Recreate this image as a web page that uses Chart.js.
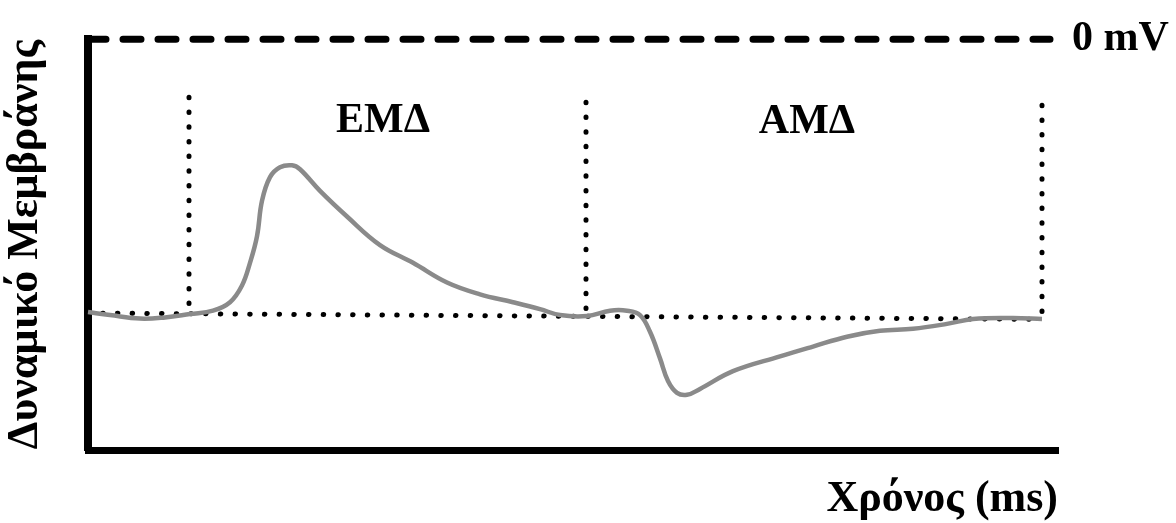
<!DOCTYPE html>
<html>
<head>
<meta charset="utf-8">
<script src="https://cdn.jsdelivr.net/npm/chart.js@4.4.1/dist/chart.umd.min.js"></script>
<style>
   html, body { margin: 0; padding: 0; background: #fff; }
   #wrap { width: 1176px; height: 523px; }
</style>
</head>
<body>
<div id="wrap"><canvas id="potentialChart"></canvas></div>
<script>
// time in arbitrary ms units, potential in mV
const traceTime = [0, 2.2, 5.2, 7.7, 10.2, 12.5, 14.2, 15.4, 16.2, 16.9, 17.4, 18.2, 19.2, 20.4, 21.2, 23.2, 25.9, 29.2, 32.5, 35.9, 39.2, 42.5, 45.2, 47.2, 49.9, 52.2, 53.9, 55.2, 56.2, 57.2, 58, 58.9, 59.9, 61.2, 64.5, 69.2, 72.5, 75.9, 79.2, 82.5, 85.9, 88.5, 92.5, 95.4];
const tracePotential = [-69.25, -70, -70.9, -70.6, -69.75, -68.9, -66.75, -62.5, -56.75, -50, -41, -35, -32.5, -32, -33, -38.5, -45, -52.25, -56.75, -61.75, -64.75, -66.75, -68.5, -70, -70.25, -68.9, -68.9, -70, -74.25, -81, -86.75, -89.75, -90.25, -88.75, -84.25, -80.5, -78, -75.5, -74, -73.5, -72.25, -71, -70.75, -71];

const zeroTime = [0, 96.2];
const zeroPotential = [0, 0];

const restTime = [0, 95.4];
const restPotential = [-69.5, -71.1];

const markerTime = [10.1, 49.8, 95.4];
const markerTop = [-14.75, -16, -16.75];
const markerBottom = [-69.75, -70.3, -71.1];

const phaseLabels = ['ΕΜΔ', 'ΑΜΔ'];
const phaseTime = [29.5, 71.9];
const phasePotential = [-23.5, -23.75];

const yTitle = 'Δυναμικό Μεμβράνης';
const xTitle = 'Χρόνος (ms)';
const zeroLabel = '0 mV';

const serif = '"Liberation Serif", "DejaVu Serif", serif';

function toPoints(xs, ys) {
   return xs.map((x, i) => ({ x: x, y: ys[i] }));
}

const datasets = [];

datasets.push({
   data: toPoints(traceTime, tracePotential),
   borderColor: '#8a8a8a',
   borderWidth: 4.5,
   pointRadius: 0,
   tension: 0.4,
   clip: false,
});

datasets.push({
   data: toPoints(zeroTime, zeroPotential),
   borderColor: '#000',
   borderWidth: 7,
   borderDash: [18, 17],
   borderCapStyle: 'round',
   pointRadius: 0,
   clip: false,
});

datasets.push({
   data: toPoints(restTime, restPotential),
   borderColor: '#000',
   borderWidth: 5,
   borderDash: [0.5, 14.2],
   borderCapStyle: 'round',
   pointRadius: 0,
   clip: false,
});

markerTime.forEach((t, i) => {
   datasets.push({
      data: [{ x: t, y: markerTop[i] }, { x: t, y: markerBottom[i] }],
      borderColor: '#000',
      borderWidth: 5,
      borderDash: [0.5, 14.2],
      borderCapStyle: 'round',
      pointRadius: 0,
      clip: false,
   });
});

// writes the phase names at data coordinates
const phaseLabelPlugin = {
   id: 'phaseLabels',
   afterDatasetsDraw(chart) {
      const ctx = chart.ctx;
      const xs = chart.scales.x;
      const ys = chart.scales.y;
      ctx.save();
      ctx.font = 'bold 42px ' + serif;
      ctx.fillStyle = '#000';
      ctx.textAlign = 'center';
      ctx.textBaseline = 'alphabetic';
      phaseLabels.forEach((label, i) => {
         ctx.fillText(label, xs.getPixelForValue(phaseTime[i]), ys.getPixelForValue(phasePotential[i]));
      });
      ctx.restore();
   }
};

new Chart(document.getElementById('potentialChart'), {
   type: 'line',
   data: { datasets: datasets },
   plugins: [phaseLabelPlugin],
   options: {
      responsive: true,
      maintainAspectRatio: false,
      animation: false,
      layout: { padding: { left: 0, top: 33, right: 0, bottom: 0 } },
      plugins: {
         legend: { display: false },
         tooltip: { enabled: false },
      },
      scales: {
         x: {
            type: 'linear',
            min: 0,
            max: 97,
            grid: { display: false, drawTicks: false },
            ticks: { display: false },
            border: { display: true, color: '#000', width: 7 },
            title: {
               display: true,
               text: xTitle,
               align: 'end',
               color: '#000',
               font: { family: serif, size: 44, weight: 'bold', lineHeight: 1 },
               padding: { top: 0, bottom: 1 },
            },
            afterFit(scale) { scale.height = 73; },
         },
         y: {
            type: 'linear',
            min: -104.25,
            max: 0,
            grid: { display: false, drawTicks: false },
            ticks: { display: false },
            border: { display: true, color: '#000', width: 8 },
            title: {
               display: true,
               text: yTitle,
               color: '#000',
               font: { family: serif, size: 44, weight: 'bold', lineHeight: 1 },
               padding: { top: 4, bottom: 0 },
            },
            afterFit(scale) { scale.width = 88; },
         },
         y2: {
            type: 'linear',
            position: 'right',
            min: -104.25,
            max: 0,
            grid: { display: false, drawTicks: false },
            border: { display: false },
            afterBuildTicks(scale) { scale.ticks = [{ value: 0 }]; },
            ticks: {
               padding: 14,
               color: '#000',
               font: { family: serif, size: 42, weight: 'bold' },
               callback: () => zeroLabel,
            },
            afterFit(scale) { scale.width = 118; },
         },
      },
   },
});
</script>
</body>
</html>
